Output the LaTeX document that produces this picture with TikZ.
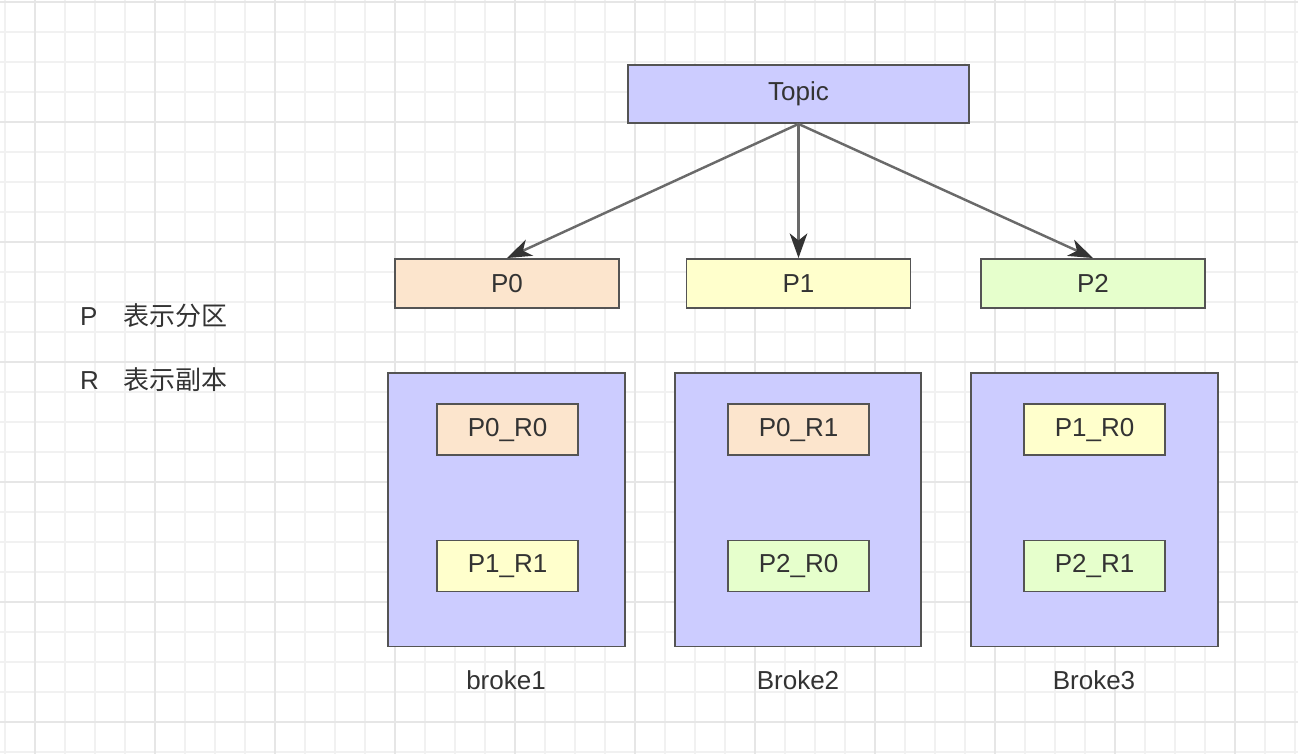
\documentclass[tikz,border=0pt]{standalone}
\usepackage{fontspec}
\setmainfont{Liberation Sans}
\newfontfamily\cjkfont{Noto Sans CJK SC}
\usepackage{tikz}
\usetikzlibrary{arrows.meta}
\usepackage{xcolor}
\definecolor{KfkText}{HTML}{333333}
\definecolor{KfkBorder}{HTML}{545454}
\definecolor{KfkArrow}{HTML}{6A6A6A}
\definecolor{KfkHead}{HTML}{333333}
\definecolor{KfkMinor}{HTML}{F1F1F1}
\definecolor{KfkMajor}{HTML}{E6E6E6}
\definecolor{KfkTopic}{HTML}{CCCCFF}
\definecolor{KfkPeach}{HTML}{FCE5CD}
\definecolor{KfkYellow}{HTML}{FFFFCC}
\definecolor{KfkGreen}{HTML}{E6FFCC}

\begin{document}
\begin{tikzpicture}[
  x=0.02cm,y=-0.02cm,font=\fontsize{14.8}{17.5}\selectfont,
  flow/.style={-{Stealth[length=14pt,width=10pt,inset=4pt,color=KfkHead]},
    draw=KfkArrow,line width=1.4pt},
  minorgrid/.style={draw=KfkMinor,line width=0.8pt},
  majorgrid/.style={draw=KfkMajor,line width=1.3pt},
  box/.style={draw=KfkBorder,line width=1.1pt,inner sep=0pt,text=KfkText},
  topicbox/.style={box,fill=KfkTopic,minimum width=6.82cm,minimum height=1.16cm},
  partbox/.style={box,minimum width=4.48cm,minimum height=0.98cm},
  brokerbox/.style={box,fill=KfkTopic,minimum height=5.48cm},
  replica/.style={box,minimum width=2.82cm,minimum height=1.02cm},
  caption/.style={text=KfkText},
  legend/.style={text=KfkText,anchor=west}
]

\useasboundingbox (0,0) rectangle (1298,754);

% background grid
\foreach \gx in {5,35,...,1295} \draw[minorgrid] (\gx,0) -- (\gx,754);
\foreach \gy in {2,32,...,752} \draw[minorgrid] (0,\gy) -- (1298,\gy);
\foreach \gx in {35,155,...,1235} \draw[majorgrid] (\gx,0) -- (\gx,754);
\foreach \gy in {2,122,...,722} \draw[majorgrid] (0,\gy) -- (1298,\gy);

\node[topicbox] (topic) at (798.5,94) {Topic};

\node[partbox,fill=KfkPeach] (p0) at (507,283.5) {P0};
\node[partbox,fill=KfkYellow] (p1) at (798.5,283.5) {P1};
\node[partbox,fill=KfkGreen] (p2) at (1093,283.5) {P2};

\draw[flow] (topic.south) -- (p0.north);
\draw[flow] (topic.south) -- (p1.north);
\draw[flow] (topic.south) -- (p2.north);

\node[legend] (legendp) at (74,316) {\makebox[0.86cm][l]{P}{\cjkfont 表示分区}};
\node[legend] (legendr) at (74,380) {\makebox[0.86cm][l]{R}{\cjkfont 表示副本}};

\node[brokerbox,minimum width=4.74cm] (broker1) at (506.5,509.5) {};
\node[brokerbox,minimum width=4.92cm] (broker2) at (798,509.5) {};
\node[brokerbox,minimum width=4.94cm] (broker3) at (1094.5,509.5) {};

\node[replica,fill=KfkPeach] (p0r0) at (507.5,429.5) {P0\_R0};
\node[replica,fill=KfkYellow] (p1r1) at (507.5,566) {P1\_R1};
\node[replica,fill=KfkPeach] (p0r1) at (798.5,429.5) {P0\_R1};
\node[replica,fill=KfkGreen] (p2r0) at (798.5,566) {P2\_R0};
\node[replica,fill=KfkYellow] (p1r0) at (1094.5,429.5) {P1\_R0};
\node[replica,fill=KfkGreen] (p2r1) at (1094.5,566) {P2\_R1};

\node[caption] (label1) at (506,680) {broke1};
\node[caption] (label2) at (798,680) {Broke2};
\node[caption] (label3) at (1094,680) {Broke3};

\end{tikzpicture}
\end{document}
